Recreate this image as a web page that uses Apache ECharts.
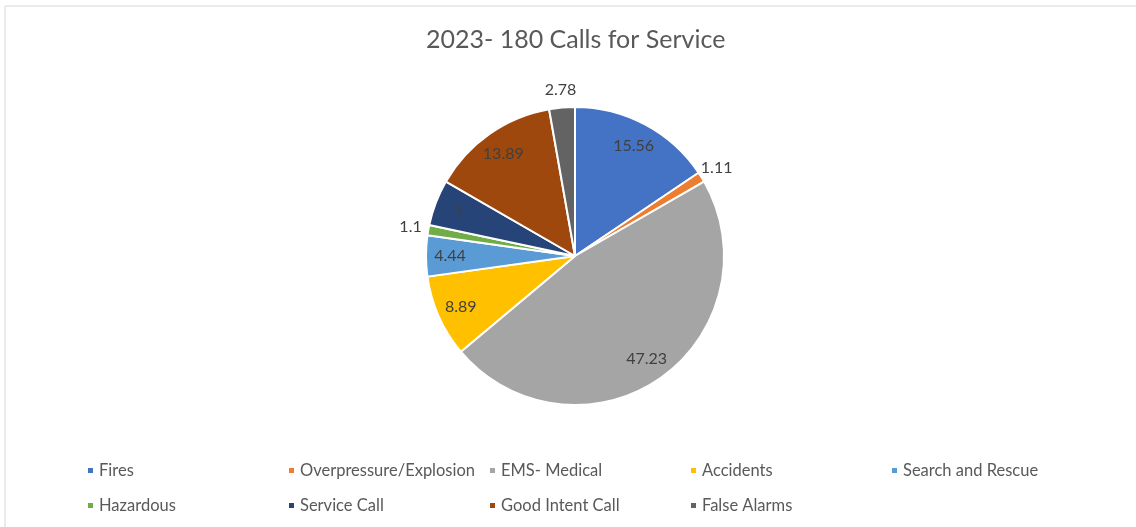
<!DOCTYPE html>
<html>
<head>
<meta charset="utf-8">
<script src="https://cdn.jsdelivr.net/npm/echarts@6/dist/echarts.min.js"></script>
<style>
html,body{margin:0;padding:0;background:#fff;}
#c{width:1136px;height:527px;}
</style>
</head>
<body>
<div id="c"></div>
<script>
const title = '2023- 180 Calls for Service';
const categories = ['Fires', 'Overpressure/Explosion', 'EMS- Medical', 'Accidents', 'Search and Rescue', 'Hazardous', 'Service Call', 'Good Intent Call', 'False Alarms'];
const values = [15.56, 1.11, 47.23, 8.89, 4.44, 1.1, 5, 13.89, 2.78];
const colors = ['#4472C4', '#ED7D31', '#A5A5A5', '#FFC000', '#5B9BD5', '#70AD47', '#264478', '#9E480E', '#636363'];

const FONT = 'Lato, "Open Sans", sans-serif';
const CX = 575, CY = 256, R = 149;
const isSmall = v => v < 3;

const chart = echarts.init(document.getElementById('c'), null, {renderer: 'canvas'});

const mainData = categories.map((n, i) => ({name: n, value: values[i], itemStyle: {color: colors[i]}}));
const innerLabelData = categories.map((n, i) => ({
  name: n, value: values[i],
  label: {show: !isSmall(values[i])}
}));
const outerLabelData = categories.map((n, i) => ({
  name: n, value: values[i],
  label: {show: isSmall(values[i])}
}));

const labelStyle = {
  position: 'inside',
  formatter: '{c}',
  color: '#404040',
  fontFamily: FONT,
  fontSize: 16
};

chart.setOption({
  backgroundColor: '#ffffff',
  animation: false,
  title: {
    text: title,
    left: 421,
    top: 19,
    textStyle: {fontFamily: FONT, fontSize: 25, fontWeight: 'normal', color: '#595959', lineHeight: 32}
  },
  legend: {
    data: categories,
    left: 86,
    top: 458,
    width: 1000,
    padding: 0,
    orient: 'horizontal',
    icon: 'rect',
    itemWidth: 7,
    itemHeight: 7,
    itemGap: 10,
    formatter: '{a|{name}}',
    textStyle: {
      fontFamily: FONT, fontSize: 16.5, color: '#595959', lineHeight: 25,
      rich: {a: {width: 178, height: 25, lineHeight: 25, fontFamily: FONT, fontSize: 16.5, color: '#595959'}}
    }
  },
  graphic: [
    {type: 'line', shape: {x1: 5, y1: 6, x2: 1136, y2: 6}, style: {stroke: '#ebebeb', lineWidth: 2}, silent: true},
    {type: 'line', shape: {x1: 5, y1: 6, x2: 5, y2: 527}, style: {stroke: '#ebebeb', lineWidth: 2}, silent: true}
  ],
  series: [
    {
      type: 'pie',
      center: [CX, CY],
      radius: [0, R],
      startAngle: 90,
      clockwise: true,
      data: mainData,
      label: {show: false},
      labelLine: {show: false},
      itemStyle: {borderColor: '#ffffff', borderWidth: 2},
      emphasis: {disabled: true},
      silent: true
    },
    {
      type: 'pie',
      center: [CX, CY],
      radius: [95, R],
      startAngle: 90,
      clockwise: true,
      data: innerLabelData,
      itemStyle: {color: 'rgba(0,0,0,0)'},
      label: labelStyle,
      labelLine: {show: false},
      emphasis: {disabled: true},
      silent: true
    },
    {
      type: 'pie',
      center: [CX, CY],
      radius: [R + 1, R + 29],
      startAngle: 90,
      clockwise: true,
      data: outerLabelData,
      itemStyle: {color: 'rgba(0,0,0,0)'},
      label: labelStyle,
      labelLine: {show: false},
      emphasis: {disabled: true},
      silent: true
    }
  ]
});
</script>
</body>
</html>
